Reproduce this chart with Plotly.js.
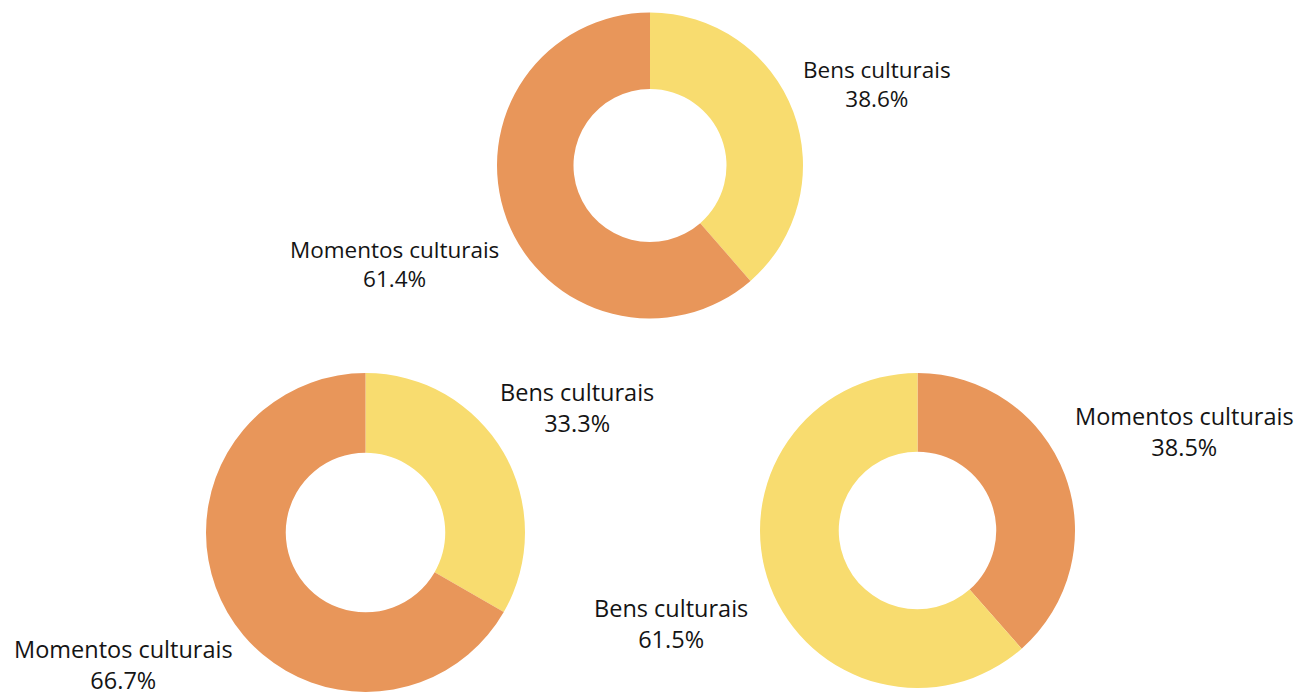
<!DOCTYPE html>
<html>
<head>
<meta charset="utf-8">
<script src="https://cdn.plot.ly/plotly-3.0.1.min.js"></script>
<style>html,body{margin:0;padding:0;background:#fff;}#chart{width:1300px;height:697px;}</style>
</head>
<body>
<div id="chart"></div>
<script>
// Data
const labelsTop = ["Bens culturais", "Momentos culturais"];
const valuesTop = [38.6, 61.4];
const labelsLeft = ["Bens culturais", "Momentos culturais"];
const valuesLeft = [33.3, 66.7];
const labelsRight = ["Momentos culturais", "Bens culturais"];
const valuesRight = [38.5, 61.5];

const colorMap = {"Bens culturais": "#F8DC6F", "Momentos culturais": "#E8965A"};

function pie(labels, values, domain) {
  return {
    type: "pie",
    labels: labels,
    values: values,
    hole: 0.5,
    sort: false,
    direction: "clockwise",
    rotation: 0,
    textinfo: "none",
    hoverinfo: "label+percent",
    marker: {colors: labels.map(l => colorMap[l]), line: {width: 0}},
    domain: domain,
    showlegend: false
  };
}

const W = 1300, H = 697;
function dom(cx, cy, r) {
  return {x: [(cx - r) / W, (cx + r) / W], y: [1 - (cy + r) / H, 1 - (cy - r) / H]};
}

const data = [
  pie(labelsTop, valuesTop, dom(650, 165.5, 153)),
  pie(labelsLeft, valuesLeft, dom(365.5, 532.5, 159.5)),
  pie(labelsRight, valuesRight, dom(917.5, 530.5, 157.5))
];

function ann(label, value, cx, cy, size) {
  return {
    xref: "paper", yref: "paper",
    x: cx / W, y: 1 - cy / H,
    xanchor: "center", yanchor: "middle",
    showarrow: false,
    align: "center",
    text: label + "<br>" + value.toFixed(1) + "%",
    font: {family: "Open Sans, sans-serif", size: size, color: "#141414"}
  };
}

const layout = {
  width: W, height: H,
  margin: {l: 0, r: 0, t: 0, b: 0},
  paper_bgcolor: "#ffffff",
  plot_bgcolor: "#ffffff",
  annotations: [
    ann(labelsTop[0], valuesTop[0], 877, 84, 22.5),
    ann(labelsTop[1], valuesTop[1], 395, 264, 22.5),
    ann(labelsLeft[0], valuesLeft[0], 577, 407, 23.5),
    ann(labelsLeft[1], valuesLeft[1], 123, 664, 23.5),
    ann(labelsRight[0], valuesRight[0], 1184, 431, 23.5),
    ann(labelsRight[1], valuesRight[1], 671, 623, 23.5)
  ]
};

Plotly.newPlot("chart", data, layout, {displayModeBar: false, staticPlot: true});
</script>
</body>
</html>
